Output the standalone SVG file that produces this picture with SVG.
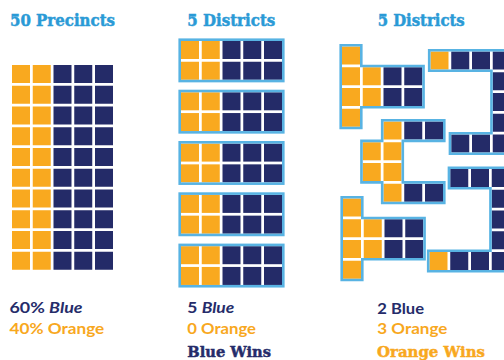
<svg xmlns="http://www.w3.org/2000/svg" xmlns:xlink="http://www.w3.org/1999/xlink" width="504" height="360" viewBox="0 0 504 360">
<style>
.o{fill:#F9A91F}
.n{fill:#242B68}
.b{fill:none;stroke:#58B3E3;stroke-width:2.6}
.t{font-family:"DejaVu Serif","Liberation Serif",serif;font-weight:bold;font-size:17px;fill:#2A9AD6;stroke:#2A9AD6;stroke-width:0.5}
.w{font-family:"DejaVu Serif","Liberation Serif",serif;font-weight:bold;font-size:14px;stroke-width:0.45}
.l{font-family:Lato,"Open Sans",sans-serif;font-weight:bold;font-size:15px}
.nv{fill:#252C6A}
.or{fill:#F8A81E}
.w.nv{stroke:#252C6A}
.w.or{stroke:#F8A81E}
</style>
<defs>
<g id="row">
<rect class="o" x="0" y="0" width="18" height="18"/>
<rect class="o" x="20.75" y="0" width="18" height="18"/>
<rect class="n" x="41.5" y="0" width="18" height="18"/>
<rect class="n" x="62.25" y="0" width="18" height="18"/>
<rect class="n" x="83" y="0" width="18" height="18"/>
</g>
<g id="box">
<use href="#row" x="0" y="0"/>
<use href="#row" x="0" y="20.75"/>
<rect class="b" x="-1.3" y="-1.3" width="103.6" height="41.35"/>
</g>
</defs>
<rect width="504" height="360" fill="#fff"/>
<!-- titles -->
<text class="t" x="10" y="25.5" textLength="105" lengthAdjust="spacingAndGlyphs">50 Precincts</text>
<text class="t" x="187.3" y="25.5" textLength="88" lengthAdjust="spacingAndGlyphs">5 Districts</text>
<text class="t" x="377.7" y="25.5" textLength="87" lengthAdjust="spacingAndGlyphs">5 Districts</text>
<!-- precincts grid -->
<g id="precincts">
<use href="#row" x="12" y="65"/>
<use href="#row" x="12" y="85.75"/>
<use href="#row" x="12" y="106.5"/>
<use href="#row" x="12" y="127.25"/>
<use href="#row" x="12" y="148"/>
<use href="#row" x="12" y="168.75"/>
<use href="#row" x="12" y="189.5"/>
<use href="#row" x="12" y="210.25"/>
<use href="#row" x="12" y="231"/>
<use href="#row" x="12" y="251.75"/>
</g>
<!-- middle districts -->
<g id="fair-district-1"><use href="#box" x="181" y="41"/></g>
<g id="fair-district-2"><use href="#box" x="181" y="92.3"/></g>
<g id="fair-district-3"><use href="#box" x="181" y="143.6"/></g>
<g id="fair-district-4"><use href="#box" x="181" y="194.9"/></g>
<g id="fair-district-5"><use href="#box" x="181" y="246.2"/></g>
<!-- gerrymandered districts -->
<g id="gerry-district-1">
<rect class="o" x="342" y="46.5" width="18" height="18"/>
<rect class="o" x="342" y="67.25" width="18" height="18"/>
<rect class="o" x="362.75" y="67.25" width="18" height="18"/>
<rect class="n" x="383.5" y="67.25" width="18" height="18"/>
<rect class="n" x="404.25" y="67.25" width="18" height="18"/>
<rect class="o" x="342" y="88" width="18" height="18"/>
<rect class="o" x="362.75" y="88" width="18" height="18"/>
<rect class="n" x="383.5" y="88" width="18" height="18"/>
<rect class="n" x="404.25" y="88" width="18" height="18"/>
<rect class="o" x="342" y="108.75" width="18" height="18"/>
<path class="b" d="M340.7,45.2 H361.3 V65.95 H423.55 V107.3 H361.3 V128.05 H340.7 Z"/>
</g>
<g id="gerry-district-2">
<rect class="o" x="383.5" y="121.5" width="18" height="18"/>
<rect class="n" x="404.25" y="121.5" width="18" height="18"/>
<rect class="n" x="425" y="121.5" width="18" height="18"/>
<rect class="o" x="362.75" y="142.25" width="18" height="18"/>
<rect class="o" x="383.5" y="142.25" width="18" height="18"/>
<rect class="o" x="362.75" y="163" width="18" height="18"/>
<rect class="o" x="383.5" y="163" width="18" height="18"/>
<rect class="o" x="383.5" y="183.75" width="18" height="18"/>
<rect class="n" x="404.25" y="183.75" width="18" height="18"/>
<rect class="n" x="425" y="183.75" width="18" height="18"/>
<path class="b" d="M382.2,120.2 H444.3 V140.9 H402.8 V182.4 H444.3 V203.05 H382.2 V182.4 H361.45 V140.9 H382.2 Z"/>
</g>
<g id="gerry-district-3">
<rect class="o" x="343" y="198.5" width="18" height="18"/>
<rect class="o" x="343" y="219.25" width="18" height="18"/>
<rect class="o" x="363.75" y="219.25" width="18" height="18"/>
<rect class="n" x="384.5" y="219.25" width="18" height="18"/>
<rect class="n" x="405.25" y="219.25" width="18" height="18"/>
<rect class="o" x="343" y="240" width="18" height="18"/>
<rect class="o" x="363.75" y="240" width="18" height="18"/>
<rect class="n" x="384.5" y="240" width="18" height="18"/>
<rect class="n" x="405.25" y="240" width="18" height="18"/>
<rect class="o" x="343" y="260.75" width="18" height="18"/>
<path class="b" d="M341.7,197.2 H362.3 V217.95 H424.55 V259.3 H362.3 V280.05 H341.7 Z"/>
</g>
<g id="gerry-district-4">
<rect class="o" x="430.5" y="51.5" width="18" height="18"/>
<rect class="n" x="451.25" y="51.5" width="18" height="18"/>
<rect class="n" x="472" y="51.5" width="18" height="18"/>
<rect class="n" x="492.75" y="51.5" width="18" height="18"/>
<rect class="n" x="492.75" y="72.25" width="18" height="18"/>
<rect class="n" x="492.75" y="93" width="18" height="18"/>
<rect class="n" x="492.75" y="113.75" width="18" height="18"/>
<rect class="n" x="451.25" y="134.5" width="18" height="18"/>
<rect class="n" x="472" y="134.5" width="18" height="18"/>
<rect class="n" x="492.75" y="134.5" width="18" height="18"/>
<path class="b" d="M429.2,50.2 H512.05 V153.8 H449.95 V133.2 H491.45 V70.8 H429.2 Z"/>
</g>
<g id="gerry-district-5">
<rect class="n" x="450.25" y="169" width="18" height="18"/>
<rect class="n" x="471" y="169" width="18" height="18"/>
<rect class="n" x="491.75" y="169" width="18" height="18"/>
<rect class="n" x="491.75" y="189.75" width="18" height="18"/>
<rect class="n" x="491.75" y="210.5" width="18" height="18"/>
<rect class="n" x="491.75" y="231.25" width="18" height="18"/>
<rect class="o" x="429.5" y="252" width="18" height="18"/>
<rect class="n" x="450.25" y="252" width="18" height="18"/>
<rect class="n" x="471" y="252" width="18" height="18"/>
<rect class="n" x="491.75" y="252" width="18" height="18"/>
<path class="b" d="M448.95,167.7 H511.05 V271.3 H428.2 V250.7 H490.45 V188.3 H448.95 Z"/>
</g>
<!-- labels -->
<text class="l nv" x="9.5" y="313.3" textLength="73" lengthAdjust="spacingAndGlyphs">60% <tspan font-style="italic">Blue</tspan></text>
<text class="l or" x="9.5" y="334.3" textLength="94.8" lengthAdjust="spacingAndGlyphs">40% Orange</text>
<text class="l nv" x="187.3" y="313.3" textLength="47" lengthAdjust="spacingAndGlyphs">5 <tspan font-style="italic">Blue</tspan></text>
<text class="l or" x="187.3" y="334.3" textLength="68.7" lengthAdjust="spacingAndGlyphs">0 Orange</text>
<text class="w nv" x="187.3" y="356.6" textLength="83.7" lengthAdjust="spacingAndGlyphs">Blue Wins</text>
<text class="l nv" x="377.3" y="313.6" textLength="46.7" lengthAdjust="spacingAndGlyphs">2 Blue</text>
<text class="l or" x="377.3" y="334.3" textLength="70" lengthAdjust="spacingAndGlyphs">3 Orange</text>
<text class="w or" x="377" y="356.6" textLength="108" lengthAdjust="spacingAndGlyphs">Orange Wins</text>
</svg>
